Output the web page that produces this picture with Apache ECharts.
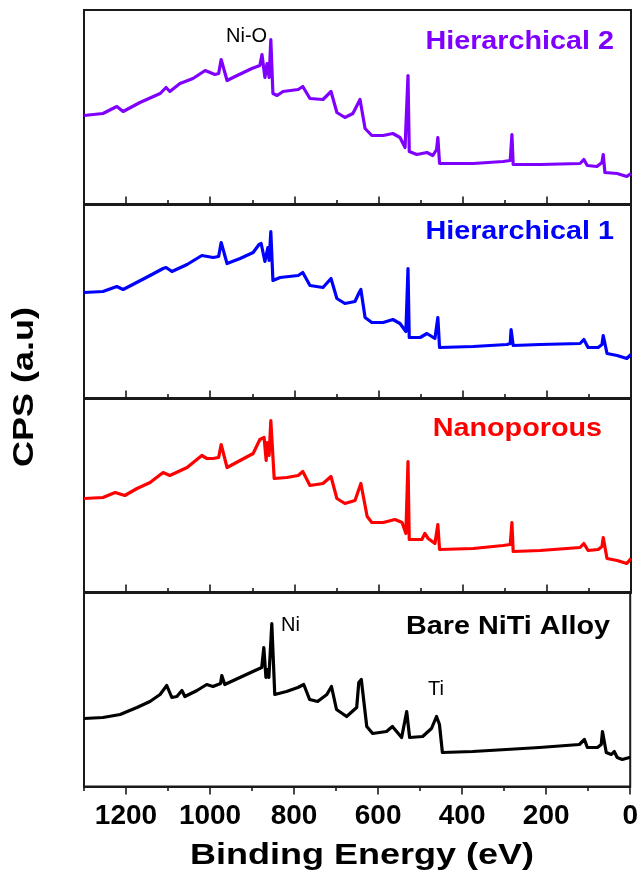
<!DOCTYPE html>
<html><head><meta charset="utf-8">
<script src="https://cdn.jsdelivr.net/npm/echarts@6/dist/echarts.min.js"></script>
<style>html,body{margin:0;padding:0;background:#fff}#chart{width:641px;height:879px}</style>
</head><body><div id="chart"></div>
<script>
// ---- data (Binding energy in eV, intensity in arbitrary units) ----
const majorTicks = [0, 200, 400, 600, 800, 1000, 1200];
const minorTicks = [100, 300, 500, 700, 900, 1100, 1300];

const h2Energy = [1300,1255,1222,1207,1167,1119,1105,1096,1072,1041,1012,989,980,974,960,936,901,882,877,870,865,860,856,851,841,827,791,780,763,732,713,699,680,661,644,632,616,589,566,549,537,533,530,527,509,485,471,462,459,455,375,304,287,283,280,216,121,112,104,81,69,66,62,33,10,0];
const h2Counts = [89,91,98,93,102,111,117,113,121,126,134,130,131,145,124,129,136,139,150,127,141,127,165,111,109,113,115,118,106,105,113,92,87,91,105,76,69,69,71,67,57,58,129,53,50,52,49,55,67,41,41,43,44,70,40,40,41,45,39,38,42,50,32,31,28,31];

const h1Energy = [1300,1255,1222,1207,1184,1143,1112,1105,1091,1055,1020,993,980,974,960,929,898,884,879,870,863,860,856,851,834,791,780,763,732,713,699,680,656,646,642,632,616,589,566,549,535,533,530,527,501,485,466,459,455,375,295,287,285,280,216,121,112,102,78,69,66,57,33,10,0];
const h1Counts = [106,107,112,109,114,123,130,131,127,134,143,141,142,156,135,140,146,154,155,137,151,138,167,118,121,123,126,113,111,120,100,95,97,106,109,81,76,76,79,75,67,68,130,61,61,65,60,81,51,52,54,55,69,53,54,55,59,51,51,54,63,45,43,40,44];

const npEnergy = [1300,1255,1226,1203,1174,1143,1112,1096,1055,1020,1008,993,980,974,960,929,898,882,872,867,865,860,856,848,818,791,780,763,732,713,699,680,656,642,627,616,589,561,544,535,533,530,527,497,490,482,466,459,455,375,304,287,283,280,216,121,112,102,78,69,66,57,33,10,0];
const npCounts = [94,95,100,97,104,110,120,117,125,137,134,134,135,148,125,132,139,153,155,132,150,137,172,114,115,117,121,107,109,116,94,89,92,109,76,70,70,73,70,59,60,131,53,53,59,54,49,68,43,44,47,48,70,41,42,45,49,42,43,46,55,34,32,29,34];

const bareEnergy = [1300,1255,1214,1174,1143,1119,1103,1091,1079,1067,1060,1031,1008,993,975,972,965,929,898,877,872,867,863,860,853,846,818,791,777,763,744,722,711,699,675,651,646,640,627,613,580,566,556,544,532,525,494,473,461,454,447,375,295,216,121,109,102,78,69,66,57,45,38,31,19,2,0];
const bareCounts = [68,69,72,79,85,92,101,89,90,96,90,96,102,100,103,111,102,109,115,119,139,109,117,109,163,92,95,99,102,87,85,92,100,77,70,79,104,107,60,53,55,60,55,49,75,49,50,58,70,62,34,35,37,39,42,47,39,39,42,55,34,32,35,29,27,29,29];

const panelNames = ['Hierarchical 2', 'Hierarchical 1', 'Nanoporous', 'Bare NiTi Alloy'];
const panelColors = ['#8000ff', '#0000ff', '#ff0000', '#000000'];
const panelEnergies = [h2Energy, h1Energy, npEnergy, bareEnergy];
const panelCounts = [h2Counts, h1Counts, npCounts, bareCounts];

// ---- layout ----
const FONT = '"Liberation Sans", Arial, Helvetica, sans-serif';
const panelTops = [10, 204, 398, 592];
const panelHeight = 194.5;
const frameColor = '#1a1a1a';

const grids = [], xAxes = [], yAxes = [], series = [];
for (let i = 0; i < 4; i++) {
  const isBottom = i === 3;
  grids.push({
    left: 84, right: 10, top: panelTops[i], height: panelHeight,
    show: true, borderColor: frameColor, borderWidth: 2, backgroundColor: 'transparent'
  });
  xAxes.push({
    type: 'value', gridIndex: i, min: 0, max: 1300, interval: 200, inverse: true, position: 'bottom',
    axisLine: { show: true, onZero: false, lineStyle: { color: frameColor, width: 2 } },
    axisTick: { show: true, inside: !isBottom, length: 8, customValues: majorTicks,
      lineStyle: { color: frameColor, width: 1.6 } },
    minorTick: { show: false },
    splitLine: { show: false },
    axisLabel: { show: isBottom, customValues: majorTicks, margin: 16,
      fontSize: 28, fontWeight: 'bold', fontFamily: FONT, color: '#000',
      formatter: v => (v % 200 === 0 ? String(v) : '') }
  });
  xAxes.push({
    type: 'value', gridIndex: i, min: 0, max: 1300, interval: 100, inverse: true, position: 'bottom',
    axisLine: { show: false, onZero: false },
    axisTick: { show: true, inside: !isBottom, length: 4.5, customValues: minorTicks,
      lineStyle: { color: frameColor, width: 1.6 } },
    splitLine: { show: false },
    axisLabel: { show: false }
  });
  yAxes.push({
    type: 'value', gridIndex: i, min: 0, max: 194.5,
    axisLine: { show: true, onZero: false, lineStyle: { color: frameColor, width: 2 } },
    axisTick: { show: false }, axisLabel: { show: false }, splitLine: { show: false }
  });
  series.push({
    type: 'line', name: panelNames[i], xAxisIndex: 2 * i, yAxisIndex: i,
    data: panelEnergies[i].map((e, k) => [e, panelCounts[i][k]]),
    showSymbol: false, symbol: 'none', smooth: false,
    lineStyle: { color: panelColors[i], width: 3.2, join: 'round' },
    itemStyle: { color: panelColors[i] },
    z: 3
  });
}

function text(str, x, y, font, color, align, extra) {
  return Object.assign({
    type: 'text', x: x, y: y, z: 100,
    style: { text: str, x: 0, y: 0, font: font, fill: color,
      textAlign: align, align: align, textVerticalAlign: 'middle', verticalAlign: 'middle' }
  }, extra || {});
}

const labelFont = 'bold 25px ' + FONT;
const labelRight = [614, 614, 602, 610];
const labelY = [42.5, 232, 429, 627];
const graphics = [];
for (let i = 0; i < 4; i++) {
  graphics.push(text(panelNames[i], labelRight[i], labelY[i], labelFont, panelColors[i], 'right', { scaleX: 1.15 }));
}
const annFont = '20px ' + FONT;
graphics.push(text('Ni-O', 226, 36, annFont, '#000', 'left'));
graphics.push(text('Ni', 281, 625, annFont, '#000', 'left'));
graphics.push(text('Ti', 428, 689, annFont, '#000', 'left'));
graphics.push(text('Binding Energy (eV)', 362, 856, 'bold 30px ' + FONT, '#000', 'center', { scaleX: 1.2 }));
graphics.push(text('CPS (a.u)', 25, 387, 'bold 30px ' + FONT, '#000', 'center', { scaleX: 1.2, rotation: Math.PI / 2 }));

const chart = echarts.init(document.getElementById('chart'), null, { renderer: 'canvas' });
chart.setOption({
  animation: false,
  backgroundColor: '#ffffff',
  grid: grids, xAxis: xAxes, yAxis: yAxes, series: series,
  graphic: { elements: graphics }
});
</script>
</body></html>
